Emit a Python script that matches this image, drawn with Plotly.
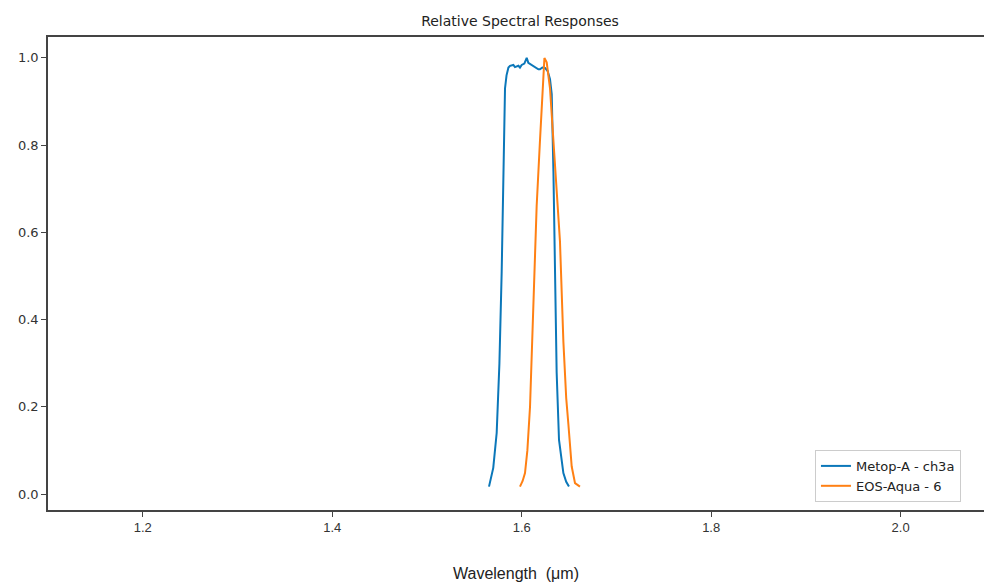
import plotly.graph_objects as go

# Metop-A ch3a relative spectral response
metop_wl = [1.5655, 1.5700, 1.5736, 1.5765, 1.5789, 1.5813, 1.5824, 1.5840, 1.5860, 1.5877,
            1.5912, 1.5929, 1.5965, 1.5982, 1.6000, 1.6028, 1.6053, 1.6070, 1.6106, 1.6141,
            1.6176, 1.6193, 1.6218, 1.6246, 1.6274, 1.6299, 1.6317, 1.6335, 1.6351, 1.6369,
            1.6394, 1.6420, 1.6440, 1.6470, 1.6499]
metop_rsr = [0.017, 0.06, 0.14, 0.30, 0.51, 0.86, 0.93, 0.96, 0.978, 0.982,
             0.984, 0.979, 0.982, 0.978, 0.984, 0.987, 1.0, 0.989, 0.984, 0.979,
             0.974, 0.974, 0.978, 0.977, 0.970, 0.951, 0.917, 0.74, 0.51, 0.28,
             0.124, 0.075, 0.048, 0.028, 0.017]

# EOS-Aqua MODIS band 6 relative spectral response
aqua_wl = [1.5982, 1.6010, 1.6035, 1.6060, 1.6088, 1.6123, 1.6158, 1.6193, 1.6218, 1.6240,
           1.6264, 1.6299, 1.6335, 1.6369, 1.6404, 1.6440, 1.6470, 1.6493, 1.6515, 1.6528,
           1.6563, 1.6615]
aqua_rsr = [0.017, 0.03, 0.048, 0.10, 0.20, 0.43, 0.66, 0.81, 0.93, 1.0,
            0.99, 0.93, 0.81, 0.70, 0.58, 0.35, 0.22, 0.16, 0.10, 0.063,
            0.025, 0.017]

x_ticks = [1.2, 1.4, 1.6, 1.8, 2.0]
y_ticks = [0.0, 0.2, 0.4, 0.6, 0.8, 1.0]

fig = go.Figure()
fig.add_trace(go.Scatter(x=metop_wl, y=metop_rsr, mode="lines", name="Metop-A - ch3a",
                         line=dict(color="#0b77b9", width=2)))
fig.add_trace(go.Scatter(x=aqua_wl, y=aqua_rsr, mode="lines", name="EOS-Aqua - 6",
                         line=dict(color="#ff8014", width=2)))

fig.update_layout(
    width=984, height=583,
    margin=dict(l=48, r=0, t=37, b=73, pad=0),
    plot_bgcolor="white", paper_bgcolor="white",
    font=dict(family="DejaVu Sans", size=12, color="#333333"),
    title=dict(text="Relative Spectral Responses", x=(520 / 984), xanchor="center",
               y=1 - 21 / 583, yanchor="middle",
               font=dict(family="DejaVu Sans", size=14, color="#222222")),
    legend=dict(x=0.8194, y=0.017, xanchor="left", yanchor="bottom",
                bgcolor="white", bordercolor="#cccccc", borderwidth=1,
                font=dict(family="DejaVu Sans", size=13, color="#222222"),
                tracegroupgap=0, itemwidth=30),
    xaxis=dict(range=[1.1, 2.088], tickvals=x_ticks, ticktext=["1.2", "1.4", "1.6", "1.8", "2.0"],
               showgrid=False, zeroline=False, showline=True, linecolor="#444444", linewidth=1.5,
               mirror=True, ticks="outside", ticklen=5, tickcolor="#444444", automargin=False,
               tickfont=dict(family="Liberation Sans", size=13, color="#333333"),
               title=dict(text="Wavelength  (μm)", standoff=33,
                          font=dict(family="Liberation Sans", size=16, color="#222222"))),
    yaxis=dict(range=[-0.0366, 1.048], tickvals=y_ticks, ticktext=["0.0", "0.2", "0.4", "0.6", "0.8", "1.0"],
               showgrid=False, zeroline=False, showline=True, linecolor="#444444", linewidth=1.5,
               mirror=False, ticks="outside", ticklen=5, tickcolor="#444444", automargin=False,
               tickfont=dict(family="DejaVu Sans", size=13, color="#333333")),
)

fig.write_html("out.html", config={"displayModeBar": False},
               post_script="document.body.style.margin='0';document.body.style.overflow='hidden';")
